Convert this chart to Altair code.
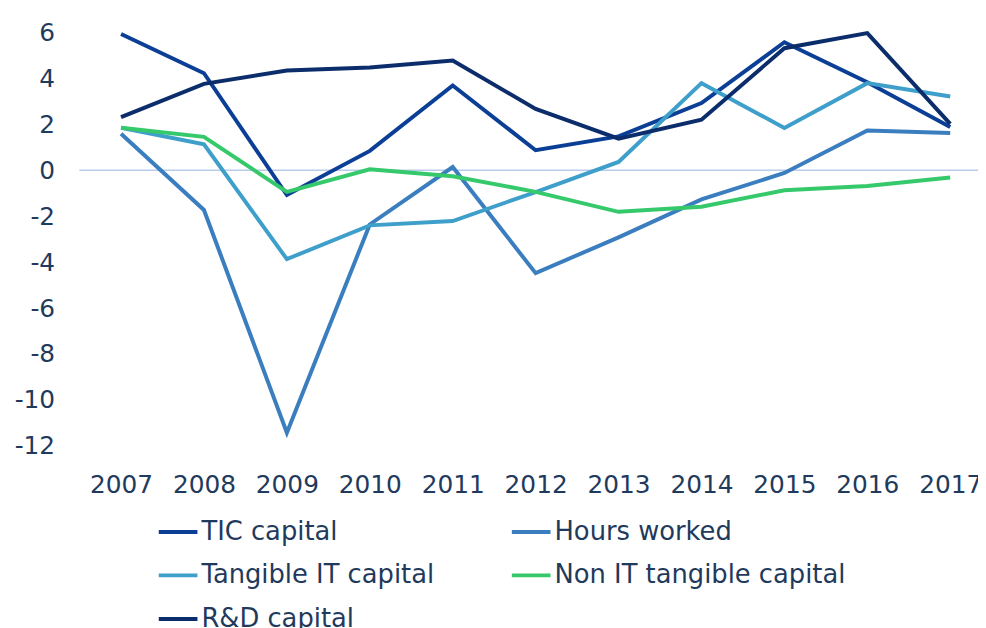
import altair as alt
import pandas as pd

years = list(range(2007, 2018))
series_names = ["TIC capital", "Hours worked", "Tangible IT capital",
                "Non IT tangible capital", "R&D capital"]
tic = [5.93, 4.22, -1.08, 0.84, 3.69, 0.87, 1.47, 2.92, 5.57, 3.83, 1.88]
hours = [1.59, -1.73, -11.42, -2.36, 0.14, -4.48, -2.92, -1.27, -0.12, 1.73, 1.62]
tangible_it = [1.85, 1.13, -3.87, -2.40, -2.21, -0.95, 0.36, 3.79, 1.84, 3.79, 3.21]
non_it = [1.85, 1.45, -0.94, 0.04, -0.26, -0.94, -1.81, -1.59, -0.87, -0.69, -0.32]
rd = [2.31, 3.76, 4.34, 4.47, 4.77, 2.67, 1.37, 2.20, 5.31, 5.97, 2.02]
colors = ["#0b3f96", "#3a7ebf", "#3f9fcb", "#35c96c", "#0c2d6b"]
y_ticks = [-12, -10, -8, -6, -4, -2, 0, 2, 4, 6]

all_series = [tic, hours, tangible_it, non_it, rd]
rows = []
for name, vals in zip(series_names, all_series):
    for yr, v in zip(years, vals):
        rows.append({"year": yr, "value": v, "series": name})
df = pd.DataFrame(rows)

# legend fills column by column: order entries so rows read as in the reference
legend_order = [0, 2, 4, 1, 3]
legend_domain = [series_names[i] for i in legend_order]
legend_colors = [colors[i] for i in legend_order]

FONT = "DejaVu Sans"
TXT = "#1f3a5c"

x_scale = alt.Scale(domain=[2006.498, 2017.335], nice=False, zero=False)
y_scale = alt.Scale(domain=[-12, 6], nice=False, zero=False)

zero_rule = alt.Chart(pd.DataFrame({"z": [0]})).mark_rule(
    color="#b7cbea", strokeWidth=1.5
).encode(y=alt.Y("z:Q", scale=y_scale))

lines = alt.Chart(df).mark_line(strokeWidth=4).encode(
    x=alt.X("year:Q", scale=x_scale,
            axis=alt.Axis(values=years, format="d", title=None, grid=False,
                          domain=False, ticks=False, labelFontSize=25,
                          labelFont=FONT, labelColor=TXT, labelPadding=27,
                          labelFlush=False, labelOverlap=False)),
    y=alt.Y("value:Q", scale=y_scale,
            axis=alt.Axis(values=y_ticks, title=None, grid=False, domain=False,
                          ticks=False, labelFontSize=25, labelFont=FONT,
                          labelColor=TXT, labelPadding=25,
                          labelExpr="'' + datum.value")),
    color=alt.Color("series:N",
                    scale=alt.Scale(domain=legend_domain, range=legend_colors),
                    legend=alt.Legend(title=None, orient="none", legendX=78,
                                      legendY=482, columns=2, columnPadding=70,
                                      rowPadding=9, symbolType="stroke",
                                      symbolSize=1521, symbolStrokeWidth=4,
                                      labelFontSize=26, labelFont=FONT,
                                      labelColor=TXT, labelOffset=2,
                                      labelLimit=500, padding=0)),
    order=alt.Order("year:Q"),
)

chart = alt.layer(zero_rule, lines).properties(
    width=906, height=417,
    autosize=alt.AutoSizeParams(type="none"),
    padding={"left": 72, "top": 22, "right": 0, "bottom": 181},
).configure_view(stroke=None)

chart.save("out.html", embed_options={"renderer": "svg", "actions": False})
